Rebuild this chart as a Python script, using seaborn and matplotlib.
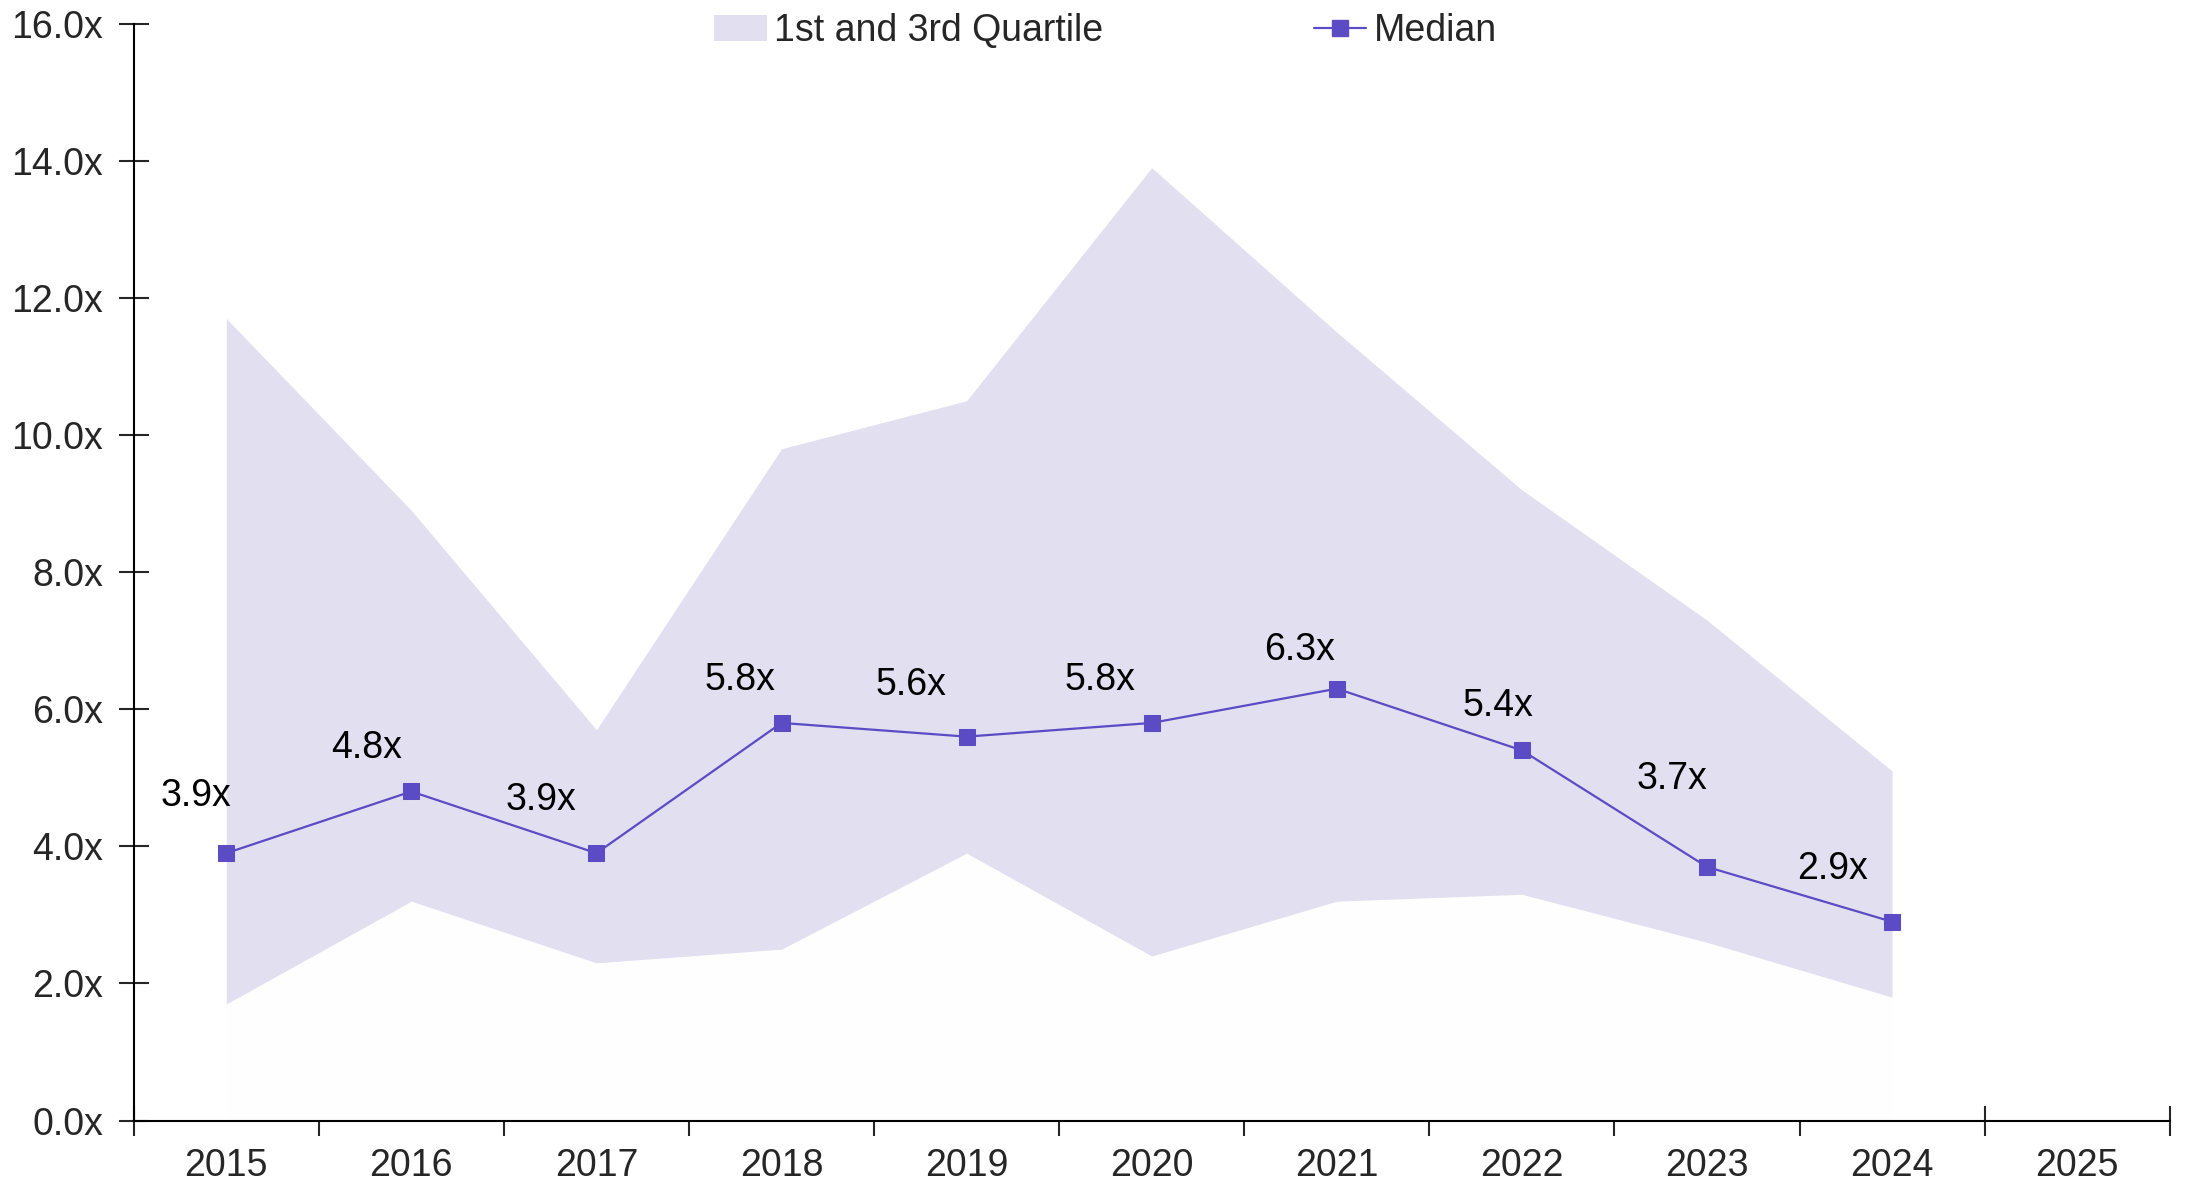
import matplotlib
matplotlib.use("Agg")
import matplotlib.pyplot as plt
import seaborn as sns
import numpy as np
import pandas as pd
from matplotlib.lines import Line2D
from matplotlib.patches import Patch
from matplotlib.ticker import FixedLocator, FuncFormatter

years = ["2015", "2016", "2017", "2018", "2019", "2020", "2021", "2022", "2023", "2024", "2025"]
median = [3.9, 4.8, 3.9, 5.8, 5.6, 5.8, 6.3, 5.4, 3.7, 2.9]
q1 = [1.7, 3.2, 2.3, 2.5, 3.9, 2.4, 3.2, 3.3, 2.6, 1.8]
q3 = [11.7, 8.9, 5.7, 9.8, 10.5, 13.9, 11.5, 9.2, 7.3, 5.1]

# label offsets (points) relative to each median marker
label_dx = [-22, -32, -40, -30, -40, -37, -27, -17, -25, -43]
label_dy = [41, 31, 38, 31, 37, 31, 28, 32, 63, 38]

band_color = "#E2DFF1"
line_color = "#5B4BC4"
fs = 27

sns.set_style("white")
plt.rcParams["font.family"] = ["Liberation Sans", "DejaVu Sans"]

df = pd.DataFrame({"year": years[:len(median)], "median": median, "q1": q1, "q3": q3})
df["pos"] = np.arange(len(df))

fig = plt.figure(figsize=(21.85, 11.85), dpi=100)
ax = fig.add_axes([0.0612, 0.0544, 0.9318, 0.9256])

# quartile band (plus an almost invisible base fill under it)
ax.fill_between(df["pos"], 0, df["q1"], color="#FEFEFF", linewidth=0)
ax.fill_between(df["pos"], df["q1"], df["q3"], color=band_color, linewidth=0)

sns.lineplot(data=df, x="pos", y="median", ax=ax, color=line_color, linewidth=1.6,
             marker="s", markersize=11, markeredgecolor=line_color, legend=False)

for p, v, dx, dy in zip(df["pos"], df["median"], label_dx, label_dy):
    ax.annotate(f"{v:.1f}x", (p, v), xytext=(dx, dy), textcoords="offset points",
                ha="center", va="center", fontsize=fs, color="black")

ax.set_xlim(-0.5, len(years) - 0.5)
ax.set_ylim(0, 16)
ax.set_yticks(np.arange(0, 16.1, 2))
ax.yaxis.set_major_formatter(FuncFormatter(lambda v, _: f"{v:.1f}x"))

ax.set_xticks(np.arange(len(years)))
ax.set_xticklabels(years)
ax.xaxis.set_minor_locator(FixedLocator(np.arange(-0.5, len(years), 1)))
ax.tick_params(axis="x", which="major", length=0, labelsize=fs, pad=20)
ax.tick_params(axis="x", which="minor", length=22, width=1.5, direction="inout", bottom=True)
ax.tick_params(axis="y", which="major", length=22, width=1.5, direction="inout", labelsize=fs, pad=11, left=True)

for s in ["top", "right"]:
    ax.spines[s].set_visible(False)
for s in ["left", "bottom"]:
    ax.spines[s].set_linewidth(1.5)
    ax.spines[s].set_color("black")
ax.set_xlabel("")
ax.set_ylabel("")

handles = [Patch(facecolor=band_color, edgecolor="none"),
           Line2D([0], [0], color=line_color, marker="s", markersize=11, linewidth=1.6)]
fig.legend(handles, ["1st and 3rd Quartile", "Median"], loc="center", bbox_to_anchor=(0.506, 0.974),
           ncol=2, frameon=False, fontsize=fs, columnspacing=5.6, handlelength=1.4, handletextpad=0.2)

fig.savefig("out.png", dpi=100)
